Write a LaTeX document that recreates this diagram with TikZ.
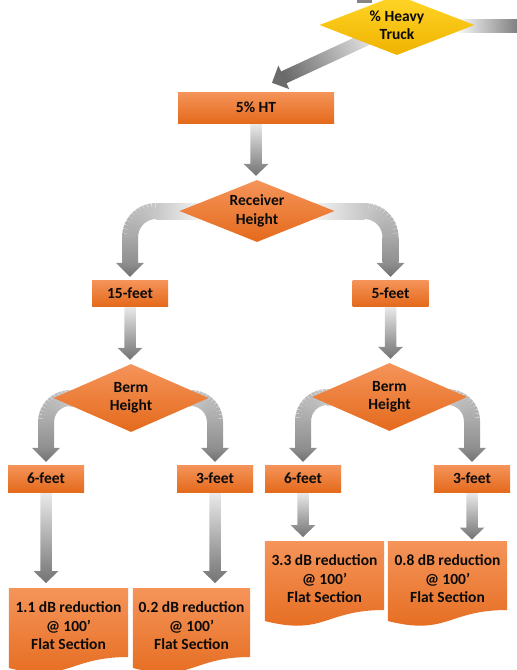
\documentclass[tikz,border=0pt]{standalone}
\usepackage{fontspec}
\setmainfont{Carlito}
\usetikzlibrary{shapes.geometric,calc,backgrounds}

\definecolor{orTop}{RGB}{245,148,90}
\definecolor{orBot}{RGB}{228,106,28}
\definecolor{ylTop}{RGB}{255,214,40}
\definecolor{ylBot}{RGB}{240,178,0}
\definecolor{txt}{RGB}{10,10,10}

\tikzset{
  lbl/.style={font=\fontsize{15.5}{18.5}\selectfont\bfseries, text=txt, align=center},
  obox/.style={lbl, rectangle, inner sep=0pt, top color=orTop, bottom color=orBot,
    minimum height=26pt, minimum width=76pt},
  odia/.style={lbl, diamond, aspect=2.5, inner sep=0pt, top color=orTop,
    bottom color=orBot, minimum width=155pt},
  ydia/.style={odia, top color=ylTop, bottom color=ylBot},
  docnode/.style={lbl, rectangle, inner sep=0pt, anchor=north,
    minimum width=119pt, minimum height=75pt},
}

% straight grey arrow from the bottom of #2 down to the top of #3,
% its tip stopping #1 pt short of #3
\newcommand\gvarrow[3][4]{%
  \shade[top color=black!8, bottom color=black!55]
    let \p1=(#2.south), \p2=(#3.north) in
    (\x1-5.75pt,\y1) -- (\x1+5.75pt,\y1) -- (\x1+5.75pt,\y2+#1pt+12pt)
    -- (\x1+12.5pt,\y2+#1pt+12pt) -- (\x1,\y2+#1pt)
    -- (\x1-12.5pt,\y2+#1pt+12pt) -- (\x1-5.75pt,\y2+#1pt+12pt) -- cycle;}

% bent grey arrow: from tip #2 of diamond #1 sideways (sign #4), round a
% corner of radius #5, down onto the top of #3; #6 turns the light end
\newcommand\gcarrow[6]{%
  \path let \p1=(#1.#2), \p2=(#3.north) in
    coordinate (gc-c) at ({\x2-(#4)*#5pt},{\y1-#5pt})
    coordinate (gc-v) at ({\x2},{\y1-#5pt})
    coordinate (gc-t) at ({\x2},{\y2+3pt})
    coordinate (gc-s) at ({\x1-(#4)*20pt},{\y1})
    coordinate (gc-h) at ({\x2-(#4)*#5pt},{\y1});
  \shade[top color=black!5, bottom color=black!22, shading angle=#6]
    ($(gc-s)+(0pt,8pt)$) rectangle ($(gc-h)+(0pt,-8pt)$);
  \foreach \i in {0,...,11}{%
    \pgfmathsetmacro\ga{90-(#4)*7.5*\i}%
    \pgfmathsetmacro\gb{\ga-(#4)*8.5}%
    \pgfmathtruncatemacro\gc{22+\i}%
    \draw[line width=16pt, draw=black!\gc]
      ($(gc-c)+(\ga:#5pt)$) arc[start angle=\ga, end angle=\gb, radius=#5pt];
  }
  \shade[top color=black!34, bottom color=black!44]
    ($(gc-v)+(-8pt,0pt)$) rectangle ($(gc-t)+(8pt,14pt)$);
  \shade[top color=black!44, bottom color=black!56]
    ($(gc-t)+(-14pt,14pt)$) -- ($(gc-t)+(14pt,14pt)$) -- (gc-t) -- cycle;}

% result sheet with a wavy lower edge under node #1
\newcommand\gdoc[1]{%
  \shade[top color=orTop, bottom color=orBot]
    let \p1=(#1.north west), \p2=(#1.north east) in
    (\p1) -- (\p2) -- (\x2,\y1-69pt)
    .. controls ({(\x1+\x2)/2},\y1-69pt) and ({(\x1+\x2)/2},\y1-95pt) ..
    (\x1,\y1-80pt) -- cycle;}

\begin{document}
\begin{tikzpicture}[x=1pt, y=-1pt]
\useasboundingbox (0,0) rectangle (517,670);

% decision diamonds and outcome boxes
\node[ydia, minimum height=60pt] (ht) at (397,25) {\% Heavy\\Truck};
\node[obox, minimum width=156pt, minimum height=31pt] (h5) at (256,107.5) {5\% HT};
\node[odia, minimum height=62pt] (recv) at (257,211) {Receiver\\Height};
\node[obox] (f15) at (130,293) {15-feet};
\node[obox] (f5) at (390.5,293) {5-feet};
\node[odia, minimum height=68pt] (bermL) at (131,398) {Berm\\Height};
\node[odia, minimum height=68pt] (bermR) at (389.5,397) {Berm\\Height};
\node[obox, minimum height=27pt] (s6L) at (46,478.5) {6-feet};
\node[obox, minimum height=27pt] (s3L) at (215,478.5) {3-feet};
\node[obox, minimum height=27pt] (s6R) at (303,478.5) {6-feet};
\node[obox, minimum height=27pt] (s3R) at (472,478.5) {3-feet};

% result sheets
\node[docnode] (r1) at (68.5,588) {1.1 dB reduction\\@ 100’\\Flat Section};
\node[docnode, minimum width=117pt] (r2) at (191.5,588) {0.2 dB reduction\\@ 100’\\Flat Section};
\node[docnode] (r3) at (324.5,541) {3.3 dB reduction\\@ 100’\\Flat Section};
\node[docnode] (r4) at (447.5,541) {0.8 dB reduction\\@ 100’\\Flat Section};

\coordinate (edgeR) at (517,32);

\begin{pgfonlayer}{background}
  \gdoc{r1}
  \gdoc{r2}
  \gdoc{r3}
  \gdoc{r4}

  % incoming stub at the top and the bar leaving to the right
  \fill[black!48] (357,0) rectangle (372,2.5);
  \shade[left color=white, right color=black!50]
    ($(ht.east)+(-20pt,6pt)$) rectangle (edgeR);

  % slanted arrow from the heavy-truck decision down to 5% HT
  \shade[top color=black!2, bottom color=black!58, shading angle=-65]
    let \p1=(ht.center), \p2=($(h5.north)+(16pt,9pt)$),
        \n1={atan2(\y2-\y1,\x2-\x1)}, \n2={veclen(\x2-\x1,\y2-\y1)} in
    ($(\p1)+(\n1+90:6.5pt)$)
    -- ($(\p1)+(\n1:\n2-13pt)+(\n1+90:6.5pt)$)
    -- ($(\p1)+(\n1:\n2-13pt)+(\n1+90:13pt)$)
    -- (\p2)
    -- ($(\p1)+(\n1:\n2-13pt)+(\n1-90:13pt)$)
    -- ($(\p1)+(\n1:\n2-13pt)+(\n1-90:6.5pt)$)
    -- ($(\p1)+(\n1-90:6.5pt)$) -- cycle;

  \gvarrow{h5}{recv}
  \gcarrow{recv}{west}{f15}{-1}{26}{-90}
  \gcarrow{recv}{east}{f5}{1}{26}{90}
  \gvarrow{f15}{bermL}
  \gvarrow{f5}{bermR}
  \gcarrow{bermL}{west}{s6L}{-1}{24}{-90}
  \gcarrow{bermL}{east}{s3L}{1}{24}{90}
  \gcarrow{bermR}{west}{s6R}{-1}{24}{-90}
  \gcarrow{bermR}{east}{s3R}{1}{24}{90}
  \gvarrow[5]{s6L}{r1}
  \gvarrow[5]{s3L}{r2}
  \gvarrow{s6R}{r3}
  \gvarrow[1.5]{s3R}{r4}
\end{pgfonlayer}
\end{tikzpicture}
\end{document}
